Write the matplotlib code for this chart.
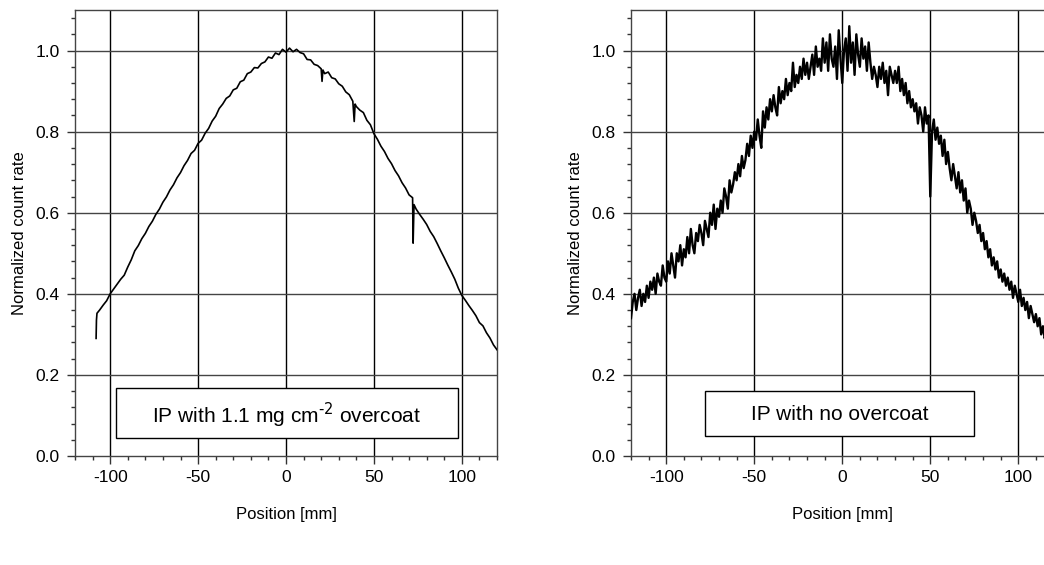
import matplotlib
matplotlib.use('Agg')
import matplotlib.pyplot as plt
from matplotlib.patches import Rectangle
from matplotlib.ticker import MultipleLocator

plt.rcParams['font.family'] = ['Liberation Sans', 'DejaVu Sans']
plt.rcParams['axes.unicode_minus'] = False

# left panel: IP with 1.1 mg cm^-2 overcoat
left_x = [-108, -107.8, -107.5, -106, -104, -102, -100, -98, -96, -94, -92, -90, -88, -86, -84, -82,
          -80, -78, -76, -74, -72, -70, -68, -66, -64, -62, -60, -58, -56, -54, -52, -50,
          -48, -46, -44, -42, -40, -38, -36, -34, -32, -30, -28, -26, -24, -22, -20, -18,
          -16, -14, -12, -10, -8, -6, -4, -2, 0, 2, 4, 6, 8, 10, 12, 14, 16, 18,
          20, 20.5, 21, 22, 24, 26, 28, 30, 32, 34, 36, 38, 38.8, 39.3, 40, 42, 44, 46, 48,
          50, 52, 54, 56, 58, 60, 62, 64, 66, 68, 70, 72, 72.3, 72.8, 74, 76, 78,
          80, 82, 84, 86, 88, 90, 92, 94, 96, 98, 100, 102, 104, 106, 108, 110,
          112, 114, 116, 118, 120]
left_y = [0.29, 0.335, 0.352, 0.36, 0.372, 0.383, 0.40, 0.412, 0.424, 0.436, 0.446, 0.466, 0.484, 0.506, 0.519, 0.536,
          0.549, 0.566, 0.579, 0.596, 0.609, 0.626, 0.639, 0.656, 0.669, 0.686, 0.699, 0.716, 0.729, 0.746, 0.754, 0.771,
          0.779, 0.796, 0.808, 0.826, 0.838, 0.857, 0.868, 0.882, 0.888, 0.903, 0.907, 0.923, 0.927, 0.943, 0.947, 0.958,
          0.957, 0.968, 0.972, 0.984, 0.981, 0.994, 0.99, 1.003, 0.996, 1.006, 0.997, 1.003, 0.995, 0.992, 0.978, 0.977,
          0.966, 0.963, 0.955, 0.924, 0.952, 0.943, 0.947, 0.933, 0.93, 0.918, 0.912, 0.898, 0.891, 0.875, 0.825, 0.868,
          0.862, 0.853, 0.847, 0.828, 0.817, 0.795, 0.781, 0.764, 0.751, 0.734, 0.721, 0.704, 0.691, 0.674, 0.661,
          0.644, 0.637, 0.525, 0.62, 0.609, 0.596, 0.584, 0.571, 0.554, 0.541, 0.524, 0.506, 0.489, 0.471, 0.454,
          0.436, 0.414, 0.396, 0.384, 0.371, 0.359, 0.346, 0.329, 0.321, 0.304, 0.291, 0.274, 0.262]

# right panel: IP with no overcoat, 1 mm steps from -120 to 120
right_x = list(range(-120, 121))
right_y = [0.34, 0.38, 0.40, 0.36, 0.39, 0.41, 0.37, 0.40, 0.38, 0.42,
           0.39, 0.43, 0.41, 0.44, 0.40, 0.45, 0.43, 0.42, 0.47, 0.44,
           0.43, 0.48, 0.45, 0.50, 0.47, 0.44, 0.50, 0.48, 0.52, 0.47,
           0.51, 0.49, 0.54, 0.50, 0.56, 0.52, 0.50, 0.55, 0.53, 0.57,
           0.55, 0.52, 0.58, 0.56, 0.54, 0.60, 0.57, 0.62, 0.56, 0.61,
           0.59, 0.63, 0.60, 0.66, 0.64, 0.61, 0.68, 0.65, 0.67, 0.70,
           0.68, 0.72, 0.69, 0.74, 0.71, 0.73, 0.77, 0.74, 0.79, 0.76,
           0.80, 0.78, 0.83, 0.79, 0.76, 0.85, 0.81, 0.86, 0.83, 0.88,
           0.85, 0.89, 0.86, 0.84, 0.91, 0.87, 0.90, 0.88, 0.93, 0.89,
           0.92, 0.90, 0.97, 0.91, 0.94, 0.92, 0.96, 0.93, 0.98, 0.94,
           0.97, 0.93, 0.96, 0.99, 0.94, 1.01, 0.96, 0.98, 0.95, 1.03,
           0.97, 1.02, 0.95, 1.04, 0.98, 0.96, 1.01, 0.93, 1.05, 0.98,
           0.92, 1.00, 1.03, 0.95, 1.06, 0.97, 1.02, 0.94, 1.04, 0.99,
           0.96, 1.03, 0.98, 1.01, 0.95, 1.02, 0.97, 0.93, 0.96, 0.94,
           0.91, 0.96, 0.93, 0.97, 0.92, 0.95, 0.89, 0.96, 0.94, 0.92,
           0.95, 0.92, 0.96, 0.90, 0.93, 0.89, 0.92, 0.87, 0.90, 0.86,
           0.88, 0.85, 0.87, 0.82, 0.86, 0.84, 0.80, 0.86, 0.82, 0.84,
           0.64, 0.80, 0.83, 0.78, 0.81, 0.77, 0.79, 0.74, 0.78, 0.72,
           0.75, 0.71, 0.68, 0.72, 0.69, 0.66, 0.70, 0.65, 0.68, 0.63,
           0.66, 0.60, 0.63, 0.61, 0.57, 0.60, 0.58, 0.55, 0.57, 0.53,
           0.55, 0.51, 0.53, 0.49, 0.51, 0.47, 0.49, 0.46, 0.48, 0.44,
           0.46, 0.43, 0.45, 0.42, 0.44, 0.41, 0.43, 0.39, 0.42, 0.40,
           0.38, 0.41, 0.37, 0.39, 0.36, 0.38, 0.34, 0.37, 0.35, 0.33,
           0.35, 0.32, 0.34, 0.30, 0.32, 0.29, 0.31, 0.28, 0.30, 0.27, 0.28]

fig = plt.figure(figsize=(10.44, 5.65), dpi=100)
W, H = 1044, 565
ax1 = fig.add_axes([75 / W, 109 / H, 422 / W, 446 / H])
ax2 = fig.add_axes([631 / W, 109 / H, 422.5 / W, 446 / H])


def style(ax):
    ax.set_xlim(-120, 120)
    ax.set_ylim(0, 1.1)
    ax.xaxis.set_major_locator(MultipleLocator(50))
    ax.xaxis.set_minor_locator(MultipleLocator(10))
    ax.yaxis.set_major_locator(MultipleLocator(0.2))
    ax.yaxis.set_minor_locator(MultipleLocator(0.04))
    ax.tick_params(which='major', direction='out', length=6, width=1, labelsize=12.5, color='#333333')
    ax.tick_params(axis='x', which='major', pad=4)
    ax.tick_params(axis='y', which='major', pad=5)
    ax.tick_params(which='minor', direction='out', length=3, width=1, color='#333333')
    ax.set_yticks([0.0, 0.2, 0.4, 0.6, 0.8, 1.0])
    ax.set_yticklabels(['0.0', '0.2', '0.4', '0.6', '0.8', '1.0'])
    for s in ax.spines.values():
        s.set_color('#444444')
        s.set_linewidth(1)
    for v in [-100, -50, 0, 50, 100]:
        ax.axvline(v, color='black', lw=1, zorder=1)
    for h in [0.2, 0.4, 0.6, 0.8, 1.0]:
        ax.axhline(h, color='#444444', lw=1, zorder=1)
    ax.set_xlabel('Position [mm]', fontsize=12, labelpad=16)
    ax.set_ylabel('Normalized count rate', fontsize=12, labelpad=6)


style(ax1)
style(ax2)

ax1.plot(left_x, left_y, color='black', lw=1.2, zorder=3)
ax2.plot(right_x, right_y, color='black', lw=1.7, zorder=3)

ax1.add_patch(Rectangle((-96.6, 0.044), 194.2, 0.124, facecolor='white', edgecolor='black', lw=1, zorder=4))
ax1.text(0.5, 0.100, r'IP with 1.1 mg cm$^{\text{-2}}$ overcoat', ha='center', va='center', fontsize=15, zorder=5)

ax2.add_patch(Rectangle((-77.8, 0.05), 152.9, 0.11, facecolor='white', edgecolor='black', lw=1, zorder=4))
ax2.text(-1.4, 0.103, 'IP with no overcoat', ha='center', va='center', fontsize=15, zorder=5)

fig.savefig('out.png', dpi=100)
